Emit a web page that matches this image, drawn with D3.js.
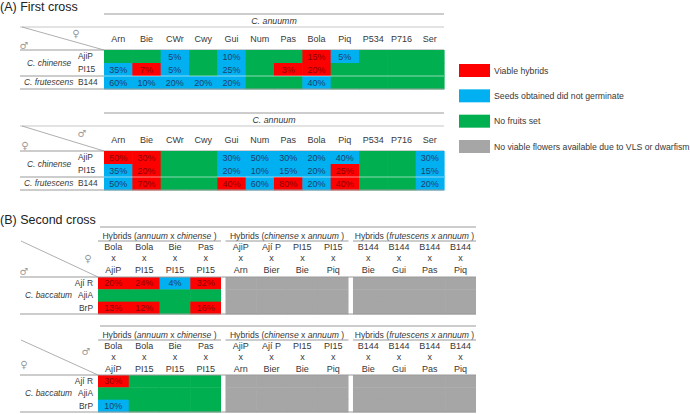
<!DOCTYPE html>
<html><head><meta charset="utf-8">
<script src="https://cdn.jsdelivr.net/npm/d3@7"></script>
<style>
body{margin:0;background:#fff}
svg{display:block}
text{font-family:'Liberation Sans',Arial,sans-serif;fill:#333}
</style>
</head><body>
<svg id="c" width="690" height="414"></svg>
<script>
// ---------- DATA ----------
const statusKeys = ["V", "S", "N", "F"];
const statusLabels = ["Viable hybrids", "Seeds  obtained did not germinate", "No fruits set", "No viable flowers available due to VLS or dwarfism"];

const firstCrossCols = ["Arn", "Bie", "CWr", "Cwy", "Gui", "Num", "Pas", "Bola", "Piq", "P534", "P716", "Ser"];
const firstCrossRows = ["AjiP", "PI15", "B144"];

const crossA1Status = [
  ["N","N","S","N","S","N","N","V","S","N","N","N"],
  ["S","V","S","N","S","N","V","V","N","N","N","N"],
  ["S","S","S","S","S","N","N","S","N","N","N","N"]
];
const crossA1Values = [
  [null,null,5,null,10,null,null,15,5,null,null,null],
  [35,7,5,null,25,null,3,20,null,null,null,null],
  [60,10,20,20,20,null,null,40,null,null,null,null]
];
const crossA2Status = [
  ["V","V","N","N","S","S","S","S","S","N","N","S"],
  ["S","V","N","N","S","S","S","S","V","N","N","S"],
  ["S","V","N","N","V","S","V","S","V","N","N","S"]
];
const crossA2Values = [
  [50,30,null,null,30,50,30,20,40,null,null,30],
  [35,20,null,null,20,10,15,20,25,null,null,15],
  [50,70,null,null,40,60,80,20,40,null,null,20]
];

const secondCrossGroups = ["g1", "g2", "g3"];
const secondCrossTop = [["Bola","Bola","Bie","Pas"],["AjiP","Ají P","PI15","PI15"],["B144","B144","B144","B144"]];
const secondCrossBottom1 = [["AjiP","PI15","PI15","PI15"],["Arn","Bier","Bie","Piq"],["Bie","Gui","Pas","Piq"]];
const secondCrossBottom2 = [["AjíP","PI15","PI15","PI15"],["Arn","Bier","Bie","Piq"],["Bie","Gui","Pas","Piq"]];
const secondCrossRows = ["Ají R", "AjiA", "BrP"];

const crossB1Status = [
  ["V","V","S","V","F","F","F","F","F","F","F","F"],
  ["N","N","N","N","F","F","F","F","F","F","F","F"],
  ["V","V","N","V","F","F","F","F","F","F","F","F"]
];
const crossB1Values = [
  [20,24,4,32,null,null,null,null,null,null,null,null],
  [null,null,null,null,null,null,null,null,null,null,null,null],
  [13,12,null,16,null,null,null,null,null,null,null,null]
];
const crossB2Status = [
  ["V","N","N","N","F","F","F","F","F","F","F","F"],
  ["N","N","N","N","F","F","F","F","F","F","F","F"],
  ["S","N","N","N","F","F","F","F","F","F","F","F"]
];
const crossB2Values = [
  [30,null,null,null,null,null,null,null,null,null,null,null],
  [null,null,null,null,null,null,null,null,null,null,null,null],
  [10,null,null,null,null,null,null,null,null,null,null,null]
];

// ---------- STYLES ----------
const fillScale = d3.scaleOrdinal().domain(statusKeys).range(["#ff0000", "#00b0f0", "#00b050", "#a6a6a6"]);
const textScale = d3.scaleOrdinal().domain(statusKeys).range(["#8a0000", "#1f3f6e", "#1f3f6e", "#333"]);
const LINE = "#a6a6a6";
const FS = 9;
const RL = 8.4;

const svg = d3.select("#c");

function hline(g, x1, x2, y, color, w) {
  g.append("line").attr("x1", x1).attr("x2", x2).attr("y1", y).attr("y2", y)
    .attr("stroke", color || LINE).attr("stroke-width", w || 1);
}
function label(g, x, y, t, opts) {
  opts = opts || {};
  return g.append("text").attr("x", x).attr("y", y).attr("dy", "0.35em")
    .attr("text-anchor", opts.anchor || "middle")
    .attr("font-size", opts.size || FS)
    .attr("font-style", opts.italic ? "italic" : null)
    .style("fill", opts.color || "#383838")
    .text(t);
}
function sym(g, x, y, ch) {
  g.append("text").attr("x", x).attr("y", y).attr("dy", "0.35em").attr("text-anchor", "middle")
    .attr("font-size", 10).style("font-family", "'DejaVu Sans',sans-serif").style("fill", "#9a9a9a").text(ch);
}

// titles
svg.append("text").attr("x", 0).attr("y", 11).attr("font-size", 12.5).style("fill", "#222").text("(A) First cross");
svg.append("text").attr("x", 0).attr("y", 224).attr("font-size", 12.5).style("fill", "#222").text("(B) Second cross");

// ---------- TABLE A ----------
function tableA(cfg) {
  const g = svg.append("g");
  const x = d3.scaleBand().domain(firstCrossCols).range([104, 444]);
  const y = d3.scaleBand().domain(firstCrossRows).range([cfg.dataTop, cfg.dataTop + 39]);
  hline(g, 104, 444, cfg.top, "#9a9a9a");
  label(g, 274, cfg.top + 7, cfg.species, {italic: true, size: 8.8});
  hline(g, 20, 444, cfg.top + 13, "#c8c8c8", 1.2);
  g.append("line").attr("x1", 22).attr("y1", cfg.top + 13).attr("x2", 104).attr("y2", cfg.dataTop)
    .attr("stroke", "#9a9a9a").attr("stroke-width", 0.8);
  sym(g, cfg.sym1[0], cfg.sym1[1], cfg.sym1[2]);
  sym(g, cfg.sym2[0], cfg.sym2[1], cfg.sym2[2]);
  firstCrossCols.forEach(c => label(g, x(c) + x.bandwidth() / 2, cfg.dataTop - 11, c));
  hline(g, 20, 444, cfg.dataTop, "#9a9a9a");
  cfg.status.forEach((row, i) => {
    row.forEach((s, j) => {
      const c = firstCrossCols[j], r = firstCrossRows[i];
      g.append("rect").attr("x", x(c)).attr("y", y(r)).attr("width", x.bandwidth() + 0.6).attr("height", y.bandwidth() + 0.4)
        .attr("fill", fillScale(s));
    });
  });
  cfg.status.forEach((row, i) => {
    row.forEach((s, j) => {
      const v = cfg.values[i][j];
      if (v != null) {
        const c = firstCrossCols[j], r = firstCrossRows[i];
        label(g, x(c) + x.bandwidth() / 2, y(r) + y.bandwidth() / 2, v + "%", {color: textScale(s)});
      }
    });
  });
  // separator between species
  const sepY = y("B144");
  hline(g, 20, 104, sepY, "#9a9a9a");
  hline(g, 104, 444, sepY, "rgba(255,255,255,0.55)", 1);
  hline(g, 20, 444, cfg.dataTop + 39, "#9a9a9a");
  // row labels
  firstCrossRows.forEach(r => label(g, 78, y(r) + y.bandwidth() / 2, r, {anchor: "start", size: RL}));
  label(g, 27, y("PI15"), "C. chinense", {anchor: "start", italic: true, size: RL});
  label(g, 24, y("B144") + y.bandwidth() / 2, "C. frutescens", {anchor: "start", italic: true, size: RL});
}

tableA({top: 14, dataTop: 50, species: "C. anuumm", status: crossA1Status, values: crossA1Values,
  sym1: [76, 33, "\u2640"], sym2: [24, 45, "\u2642"]});
tableA({top: 113, dataTop: 151, species: "C. annuum", status: crossA2Status, values: crossA2Values,
  sym1: [82, 133, "\u2642"], sym2: [25, 145, "\u2640"]});

// ---------- LEGEND ----------
const lg = svg.append("g");
const ly = d3.scalePoint().domain(statusKeys).range([64, 140]);
statusKeys.forEach((k, i) => {
  lg.append("rect").attr("x", 459).attr("y", ly(k)).attr("width", 31).attr("height", 13).attr("fill", fillScale(k));
  label(lg, 494, ly(k) + 6.5, statusLabels[i], {anchor: "start", size: 8.7});
});

// ---------- TABLE B ----------
const groupTitles = [
  [["Hybrids (", false], ["annuum", true], ["  x ", false], ["chinense", true], [" )", false]],
  [["Hybrids (", false], ["chinense", true], [" x ", false], ["annuum", true], [" )", false]],
  [["Hybrids (", false], ["frutescens x annuum", true], [" )", false]]
];
function tableB(cfg) {
  const g = svg.append("g");
  const gx = d3.scaleBand().domain(secondCrossGroups).range([98, 476]).paddingInner(0.035);
  const y = d3.scaleBand().domain(secondCrossRows).range([cfg.dataTop, cfg.dataTop + 37]);
  hline(g, 100, 476, cfg.top, "#9a9a9a");
  secondCrossGroups.forEach((gr, gi) => {
    const x = d3.scaleBand().domain(d3.range(4)).range([gx(gr), gx(gr) + gx.bandwidth()]);
    const cx = gx(gr) + gx.bandwidth() / 2;
    const t = g.append("text").attr("x", cx).attr("y", cfg.top + 9).attr("dy", "0.35em")
      .attr("text-anchor", "middle").attr("font-size", 8.6).style("fill", "#383838");
    groupTitles[gi].forEach(p => t.append("tspan").attr("font-style", p[1] ? "italic" : null).text(p[0]));
    hline(g, gx(gr), gx(gr) + gx.bandwidth(), cfg.top + 14, "#9a9a9a");
    d3.range(4).forEach(k => {
      const mx = x(k) + x.bandwidth() / 2;
      label(g, mx, cfg.top + 19.5, secondCrossTop[gi][k]);
      label(g, mx, cfg.top + 31, "x");
      label(g, mx, cfg.top + 43, cfg.bottom[gi][k]);
      secondCrossRows.forEach((r, i) => {
        const j = gi * 4 + k;
        const s = cfg.status[i][j];
        g.append("rect").attr("x", x(k)).attr("y", y(r)).attr("width", x.bandwidth() + (k < 3 ? 0.6 : 0)).attr("height", y.bandwidth() + 0.4)
          .attr("fill", fillScale(s));
      });
    });
    secondCrossRows.forEach((r, i) => {
      d3.range(4).forEach(k => {
        const j = gi * 4 + k;
        const v = cfg.values[i][j];
        if (v != null) label(g, x(k) + x.bandwidth() / 2, y(r) + y.bandwidth() / 2, v + "%", {color: textScale(cfg.status[i][j])});
      });
    });
  });
  hline(g, 20, 476, cfg.dataTop, "#9a9a9a");
  g.append("line").attr("x1", 21).attr("y1", cfg.top + 14).attr("x2", 98).attr("y2", cfg.dataTop)
    .attr("stroke", "#9a9a9a").attr("stroke-width", 0.8);
  sym(g, cfg.sym1[0], cfg.sym1[1], cfg.sym1[2]);
  sym(g, cfg.sym2[0], cfg.sym2[1], cfg.sym2[2]);
  hline(g, 20, 476, cfg.dataTop + 37, "#9a9a9a");
  secondCrossRows.forEach(r => label(g, 93, y(r) + y.bandwidth() / 2, r, {anchor: "end", size: RL}));
  label(g, 25, y("AjiA") + y.bandwidth() / 2, "C. baccatum", {anchor: "start", italic: true, size: RL});
}

tableB({top: 227, dataTop: 277, bottom: secondCrossBottom1, status: crossB1Status, values: crossB1Values,
  sym1: [88, 258, "\u2640"], sym2: [24, 271, "\u2642"]});
tableB({top: 326, dataTop: 375, bottom: secondCrossBottom2, status: crossB2Status, values: crossB2Values,
  sym1: [86, 351, "\u2642"], sym2: [24, 364, "\u2640"]});
</script>
</body></html>
